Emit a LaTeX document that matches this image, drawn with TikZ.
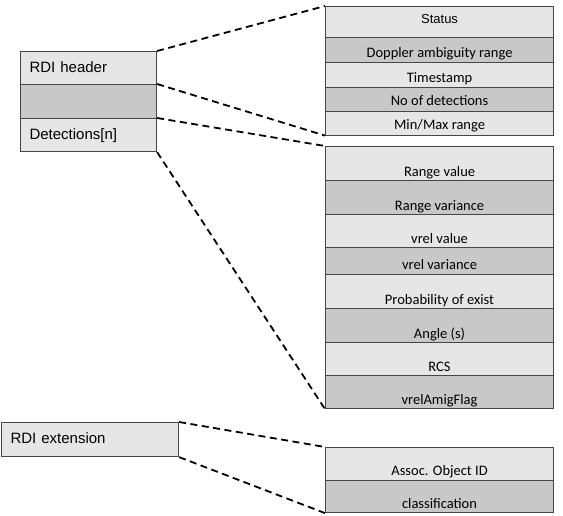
\documentclass[tikz,border=0pt]{standalone}
\usepackage{fontspec}
\newfontfamily\arialfont{Liberation Sans}
\newfontfamily\califont{Carlito}
\definecolor{cellhi}{RGB}{230,230,230}
\definecolor{celllo}{RGB}{200,200,200}
\definecolor{cellline}{RGB}{70,70,70}

\begin{document}
\begin{tikzpicture}[x=1pt,y=-1pt]
	\tikzstyle{cell}=[draw=cellline,line width=1.1pt,anchor=north west,inner sep=0pt,minimum width=228pt,font=\califont\fontsize{14.5}{16}\selectfont]
	\tikzstyle{leftcell}=[cell,minimum width=136pt,text width=118pt,inner xsep=9pt,align=left,font=\arialfont\fontsize{15}{18}\selectfont]
	\tikzstyle{light}=[fill=cellhi]
	\tikzstyle{dark}=[fill=celllo]
	\tikzstyle{link}=[black,line width=1.8pt,dash pattern=on 7pt off 4.5pt]
	\useasboundingbox (0,0) rectangle (563,515);
	% left: RDI header block
	\node[leftcell,light,text height=20.5pt,text depth=12.5pt](hdr) at (20,51) {RDI header};
	\node[leftcell,dark,minimum height=34pt](gap) at (20,84) {};
	\node[leftcell,light,text height=20.5pt,text depth=12.5pt](det) at (20,118) {Detections[n]};
	% header fields
	\node[cell,light,text height=17pt,text depth=14pt,font=\arialfont\fontsize{13}{15}\selectfont](status) at (325,6) {Status};
	\node[cell,dark,text height=20pt,text depth=5pt](doppler) at (325,37) {Doppler ambiguity range};
	\node[cell,light,text height=20pt,text depth=4.5pt](stamp) at (325,62) {Timestamp};
	\node[cell,dark,text height=18.5pt,text depth=5.5pt](ndet) at (325,86.5) {No of detections};
	\node[cell,light,text height=18.5pt,text depth=5.5pt](minmax) at (325,110.5) {Min/Max range};
	% detection fields
	\node[cell,light,text height=30pt,text depth=4pt](rval) at (325,146) {Range value};
	\node[cell,dark,text height=30pt,text depth=4pt](rvar) at (325,180) {Range variance};
	\node[cell,light,text height=29pt,text depth=4pt](vval) at (325,214) {vrel value};
	\node[cell,dark,text height=22pt,text depth=5pt](vvar) at (325,247) {vrel variance};
	\node[cell,light,text height=30pt,text depth=4pt](prob) at (325,274) {Probability of exist};
	\node[cell,dark,text height=30pt,text depth=4pt](angle) at (325,308) {Angle (s)};
	\node[cell,light,text height=29pt,text depth=4pt](rcs) at (325,342) {RCS};
	\node[cell,dark,text height=29pt,text depth=4pt](flag) at (325,375) {vrelAmigFlag};
	% extension
	\node[leftcell,light,minimum width=177pt,text width=159pt,text height=21pt,text depth=13pt](ext) at (1,422) {RDI extension};
	\node[cell,light,text height=28pt,text depth=5pt](assoc) at (325,447) {Assoc. Object ID};
	\node[cell,dark,text height=28pt,text depth=4pt](class) at (325,480) {classification};
	% dashed links
	\draw[link] (hdr.north east) -- (status.north west);
	\draw[link] (gap.north east) -- (minmax.south west);
	\draw[link] (det.north east) -- (rval.north west);
	\draw[link] (det.south east) -- (flag.south west);
	\draw[link] (ext.north east) -- (assoc.north west);
	\draw[link] (ext.south east) -- (class.south west);
\end{tikzpicture}
\end{document}
